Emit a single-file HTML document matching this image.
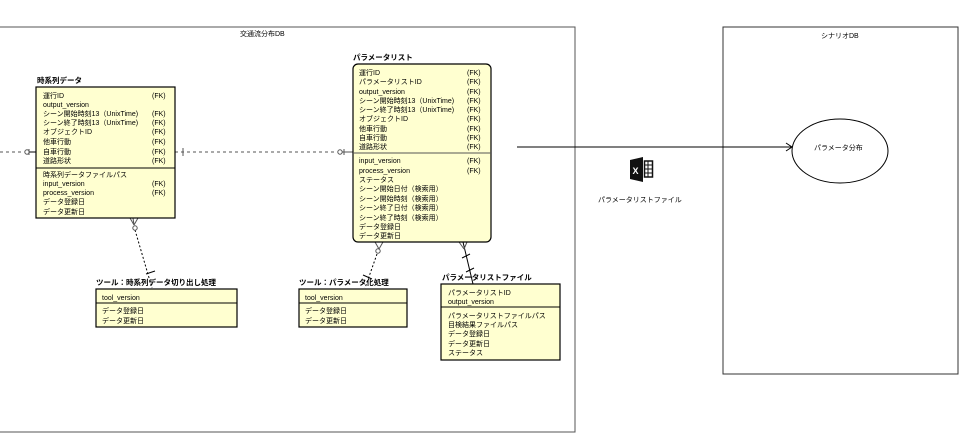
<!DOCTYPE html>
<html><head><meta charset="utf-8"><style>
html,body{margin:0;padding:0;background:#fff;width:967px;height:443px;overflow:hidden}
svg text{font-family:"Liberation Sans","Noto Sans CJK JP",sans-serif;font-size:7px;fill:#000}
.t{font-weight:bold;font-size:7.5px}
</style></head><body>
<svg width="967" height="443" viewBox="0 0 967 443" xmlns="http://www.w3.org/2000/svg">
<rect x="-2" y="27" width="577" height="405" fill="#fff" stroke="#555" stroke-width="1"/>
<text x="240" y="36">交通流分布DB</text>
<rect x="723" y="27" width="235" height="347" fill="#fff" stroke="#333" stroke-width="1"/>
<text x="821" y="38">シナリオDB</text>
<ellipse cx="840" cy="151" rx="48" ry="32" fill="#fff" stroke="#000"/>
<text x="814" y="150">パラメータ分布</text>
<line x1="517" y1="147" x2="792" y2="147" stroke="#000"/>
<polyline points="786,143 792,147 786,151" fill="none" stroke="#000"/>
<!-- excel icon -->
<polygon points="630,160 643,157 643,182 630,179" fill="#111"/>
<text x="632.5" y="174" style="fill:#fff;font-weight:bold;font-size:9px">X</text>
<rect x="644.5" y="161" width="8" height="16" fill="none" stroke="#111" stroke-width="1.5"/>
<line x1="648" y1="161" x2="648" y2="177" stroke="#111"/>
<line x1="644" y1="165" x2="653" y2="165" stroke="#111"/><line x1="644" y1="169" x2="653" y2="169" stroke="#111"/><line x1="644" y1="173" x2="653" y2="173" stroke="#111"/>
<text x="598" y="202">パラメータリストファイル</text>

<g stroke="#555" stroke-width="1" fill="none">
<line x1="0" y1="152" x2="24" y2="152" stroke-dasharray="3,3"/>
<circle cx="27" cy="152" r="2.2" fill="#fff"/><line x1="29" y1="152" x2="36" y2="152" stroke="#000"/><line x1="29" y1="149" x2="29" y2="155"/>
<line x1="175" y1="152" x2="337" y2="152" stroke-dasharray="3,3"/>
<line x1="183" y1="148" x2="183" y2="156"/>
<circle cx="340" cy="152" r="2.2" fill="#fff"/><line x1="342" y1="152" x2="353" y2="152"/><line x1="344" y1="149" x2="344" y2="155"/>
<line x1="135" y1="230" x2="152" y2="288" stroke-dasharray="2,2" stroke="#000"/>
<circle cx="135" cy="228" r="2.2" fill="#fff"/>
<path d="M130 218 L134 225 M133 218 L134 225 M138 218 L134 225"/>
<line x1="146" y1="274" x2="155" y2="271" stroke="#000"/>
<line x1="377" y1="254" x2="365" y2="288" stroke-dasharray="2,2" stroke="#000"/>
<circle cx="378" cy="251" r="2.2" fill="#fff"/>
<path d="M375 242 L379 249 M383 242 L379 249"/>
<line x1="363" y1="275" x2="372" y2="279" stroke="#000"/>
<line x1="463" y1="242" x2="473" y2="284" stroke="#000"/>
<path d="M459 242 L464 249 M467 242 L464 249"/>
<line x1="462" y1="258" x2="470" y2="254" stroke="#000"/><line x1="466" y1="272" x2="474" y2="268" stroke="#000"/>
</g>

<text class="t" x="37" y="83">時系列データ</text>
<rect x="36" y="87" width="139" height="131" fill="#ffffd0" stroke="#000" stroke-width="1.2"/>
<line x1="36" y1="168" x2="175" y2="168" stroke="#000"/>
<g>
<text x="43" y="98">運行ID</text><text x="152" y="98">(FK)</text>
<text x="43" y="107">output_version</text>
<text x="43" y="116">シーン開始時刻13（UnixTime)</text><text x="152" y="116">(FK)</text>
<text x="43" y="125">シーン終了時刻13（UnixTime)</text><text x="152" y="125">(FK)</text>
<text x="43" y="134">オブジェクトID</text><text x="152" y="134">(FK)</text>
<text x="43" y="144">他車行動</text><text x="152" y="144">(FK)</text>
<text x="43" y="154">自車行動</text><text x="152" y="154">(FK)</text>
<text x="43" y="163">道路形状</text><text x="152" y="163">(FK)</text>
<text x="43" y="177">時系列データファイルパス</text>
<text x="43" y="186">input_version</text><text x="152" y="186">(FK)</text>
<text x="43" y="195">process_version</text><text x="152" y="195">(FK)</text>
<text x="43" y="204">データ登録日</text>
<text x="43" y="214">データ更新日</text>
</g>

<text class="t" x="353" y="60">パラメータリスト</text>
<rect x="353" y="64" width="138" height="178" rx="5" fill="#ffffd0" stroke="#000" stroke-width="1.2"/>
<line x1="353" y1="153" x2="491" y2="153" stroke="#555"/>
<g>
<text x="359" y="75">運行ID</text><text x="467" y="75">(FK)</text>
<text x="359" y="84">パラメータリストID</text><text x="467" y="84">(FK)</text>
<text x="359" y="94">output_version</text><text x="467" y="94">(FK)</text>
<text x="359" y="103">シーン開始時刻13（UnixTime)</text><text x="467" y="103">(FK)</text>
<text x="359" y="112">シーン終了時刻13（UnixTime)</text><text x="467" y="112">(FK)</text>
<text x="359" y="121">オブジェクトID</text><text x="467" y="121">(FK)</text>
<text x="359" y="131">他車行動</text><text x="467" y="131">(FK)</text>
<text x="359" y="140">自車行動</text><text x="467" y="140">(FK)</text>
<text x="359" y="149">道路形状</text><text x="467" y="149">(FK)</text>
<text x="359" y="163">input_version</text><text x="467" y="163">(FK)</text>
<text x="359" y="173">process_version</text><text x="467" y="173">(FK)</text>
<text x="359" y="182">ステータス</text>
<text x="359" y="191">シーン開始日付（検索用）</text>
<text x="359" y="201">シーン開始時刻（検索用）</text>
<text x="359" y="210">シーン終了日付（検索用）</text>
<text x="359" y="220">シーン終了時刻（検索用）</text>
<text x="359" y="229">データ登録日</text>
<text x="359" y="238">データ更新日</text>
</g>

<text class="t" x="96" y="285">ツール：時系列データ切り出し処理</text>
<rect x="96" y="289" width="141" height="38" fill="#ffffd0" stroke="#000" stroke-width="1.2"/>
<line x1="96" y1="303" x2="237" y2="303" stroke="#000"/>
<text x="102" y="300">tool_version</text>
<text x="102" y="313">データ登録日</text>
<text x="102" y="323">データ更新日</text>

<text class="t" x="299" y="285">ツール：パラメータ化処理</text>
<rect x="299" y="289" width="108" height="38" fill="#ffffd0" stroke="#000" stroke-width="1.2"/>
<line x1="299" y1="303" x2="407" y2="303" stroke="#000"/>
<text x="305" y="300">tool_version</text>
<text x="305" y="313">データ登録日</text>
<text x="305" y="323">データ更新日</text>

<text class="t" x="442" y="280">パラメータリストファイル</text>
<rect x="441" y="284" width="119" height="76" fill="#ffffd0" stroke="#000" stroke-width="1.2"/>
<line x1="441" y1="307" x2="560" y2="307" stroke="#000"/>
<text x="448" y="295">パラメータリストID</text>
<text x="448" y="304">output_version</text>
<text x="448" y="318">パラメータリストファイルパス</text>
<text x="448" y="327">目検結果ファイルパス</text>
<text x="448" y="336">データ登録日</text>
<text x="448" y="346">データ更新日</text>
<text x="448" y="355">ステータス</text>
</svg>
</body></html>
